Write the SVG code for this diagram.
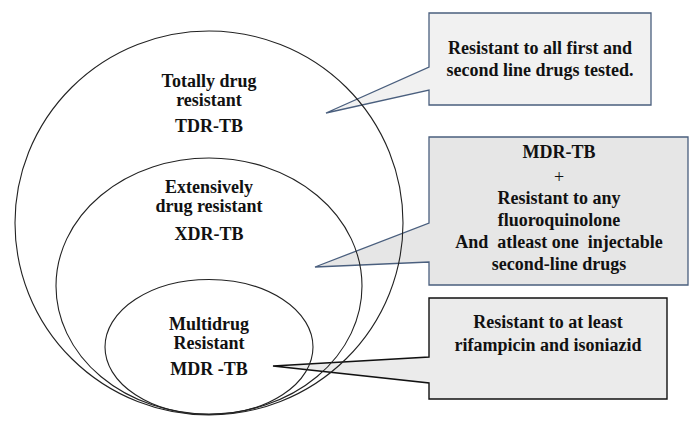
<svg xmlns="http://www.w3.org/2000/svg" width="700" height="446" viewBox="0 0 700 446">
  <defs>
    <style type="text/css">
      .t { font-size: 18px; font-weight: bold; fill: #111; text-anchor: middle; }
      .ring { fill: none; stroke: #222; stroke-width: 1.1; }
      .c1 { fill: #f1f1f1; stroke: #4a5f7e; stroke-width: 1.3; }
      .c2 { fill: #e6e6e6; stroke: #4a5f7e; stroke-width: 1.3; }
      .c3 { fill: #ebebeb; stroke: #111; stroke-width: 1.4; }
    </style>
  </defs>
  <rect width="700" height="446" fill="#ffffff"/>

  <g font-family="Liberation Serif, DejaVu Serif, serif">
  <g id="callout-tdr">
    <path class="c1" d="M429,13 H651 V105 H429 V90 L326,113 L429,67 Z"/>
    <text class="t" x="540" y="54">Resistant to all first and</text>
    <text class="t" x="540" y="76">second line drugs tested.</text>
  </g>

  <g id="callout-xdr">
    <path class="c2" d="M429,137 H688 V285 H429 V262 L315,267 L429,223 Z"/>
    <text class="t" x="559" y="158">MDR-TB</text>
    <text class="t" x="559" y="183" font-weight="normal" style="font-weight:normal">+</text>
    <text class="t" x="559" y="204">Resistant to any</text>
    <text class="t" x="559" y="226">fluoroquinolone</text>
    <text class="t" x="559" y="248" xml:space="preserve">And  atleast one  injectable</text>
    <text class="t" x="559" y="270">second-line drugs</text>
  </g>

  <g id="callout-mdr">
    <path class="c3" d="M429,298 H667 V399 H429 V383 L273,366 L429,357 Z"/>
    <text class="t" x="548" y="328">Resistant to at least</text>
    <text class="t" x="548" y="351">rifampicin and isoniazid</text>
  </g>

  <g id="tdr">
    <ellipse class="ring" cx="209" cy="223" rx="194" ry="192"/>
    <text class="t" x="209" y="87">Totally drug</text>
    <text class="t" x="209" y="106">resistant</text>
    <text class="t" x="209" y="132">TDR-TB</text>
  </g>

  <g id="xdr">
    <ellipse class="ring" cx="209" cy="286" rx="153" ry="128"/>
    <text class="t" x="209" y="193">Extensively</text>
    <text class="t" x="209" y="212">drug resistant</text>
    <text class="t" x="209" y="240">XDR-TB</text>
  </g>

  <g id="mdr">
    <ellipse class="ring" cx="209" cy="347" rx="104" ry="67.5"/>
    <text class="t" x="209" y="330">Multidrug</text>
    <text class="t" x="209" y="349">Resistant</text>
    <text class="t" x="209" y="375" xml:space="preserve">MDR -TB</text>
  </g>
  </g>

  <g id="connectors"/>
</svg>
